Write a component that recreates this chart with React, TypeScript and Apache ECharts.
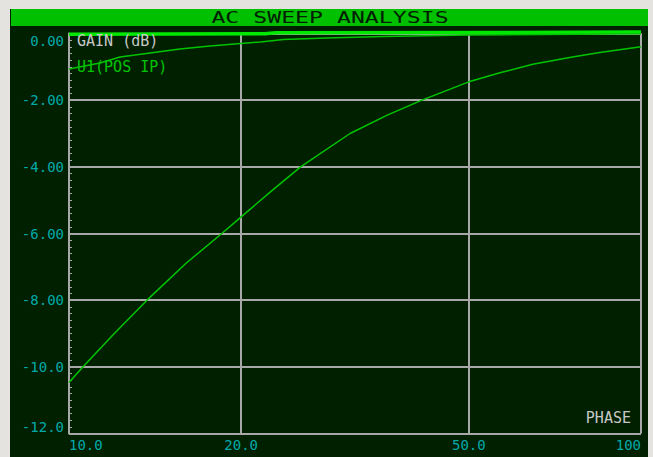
import React, { useEffect, useRef } from "react";
import * as echarts from "echarts";

const TITLE = "AC SWEEP ANALYSIS";
const LEFT_AXIS_TITLE = "GAIN (dB)";
const TRACE_NAME = "U1(POS IP)";
const RIGHT_AXIS_TITLE = "PHASE";

const xTicks = [10, 20, 50, 100];
const yMin = -12;
const yMax = 0;
const yStep = 2;

// main trace U1(POS IP)
const u1Freq = [10, 10.58, 12, 13.69, 16, 18.5, 20, 22.5, 25.4, 31, 36, 41.4, 50, 56.7, 64.7, 75, 84.7, 100];
const u1Gain = [-10.47, -10, -9.0, -8, -6.9, -6, -5.5, -4.75, -4, -3, -2.45, -2, -1.45, -1.18, -0.92, -0.72, -0.57, -0.4];

// second trace near the top
const secondFreq = [10, 11.33, 12.28, 13.86, 15.63, 17.64, 21.6, 23.7, 28.2, 35.4, 50, 100];
const secondGain = [-1.065, -0.885, -0.705, -0.585, -0.465, -0.375, -0.255, -0.18, -0.135, -0.09, -0.045, -0.01];

// bright flat trace at 0 dB
const flatFreq = [10, 22, 23, 60, 100];
const flatGain = [-0.02, -0.01, 0.02, 0.03, 0.045];

const GRAY = "#a8a8a8";
const TEAL = "#00aaaa";
const FONT = "DejaVu Sans Mono";

const pairs = (xs: number[], ys: number[]) => xs.map((x, i) => [x, ys[i]]);

export default function App() {
  const ref = useRef<HTMLDivElement>(null);
  useEffect(() => {
    document.body.style.margin = "0";
    const chart = echarts.init(ref.current!, null, { renderer: "svg" });
    chart.setOption({
      animation: false,
      backgroundColor: "#e4e3df",
      grid: { left: 69, right: 12, top: 33.5, bottom: 23.5, show: false },
      xAxis: {
        type: "log",
        logBase: 10,
        min: 10,
        max: 100,
        axisLine: { show: true, lineStyle: { color: GRAY, width: 2 } },
        axisTick: { show: false, customValues: xTicks },
        minorTick: { show: false },
        axisLabel: {
          customValues: xTicks,
          formatter: (v: number) => (v >= 100 ? String(Math.round(v)) : v.toFixed(1)),
          color: TEAL,
          fontFamily: FONT,
          fontSize: 14,
          margin: 4,
          alignMinLabel: "left",
          alignMaxLabel: "right",
        },
        splitLine: { show: true, lineStyle: { color: GRAY, width: 2 } },
      },
      yAxis: {
        type: "value",
        min: yMin,
        max: yMax,
        interval: yStep,
        axisLine: { show: true, lineStyle: { color: GRAY, width: 2 } },
        axisTick: { show: true, inside: true, length: 3, lineStyle: { color: GRAY } },
        minorTick: { show: true, splitNumber: 10, length: 3, lineStyle: { color: GRAY } },
        axisLabel: {
          formatter: (v: number) =>
            v === 0 ? "0.00" : Math.abs(v) >= 10 ? v.toFixed(1) : v.toFixed(2),
          color: TEAL,
          fontFamily: FONT,
          fontSize: 14,
          margin: 5,
          verticalAlignMinLabel: "bottom",
          verticalAlignMaxLabel: "top",
        },
        splitLine: { show: true, lineStyle: { color: GRAY, width: 2 } },
      },
      series: [
        {
          type: "line",
          name: "flat",
          data: pairs(flatFreq, flatGain),
          showSymbol: false,
          clip: false,
          lineStyle: { color: "#00e800", width: 3.5 },
          z: 3,
        },
        {
          type: "line",
          name: "second",
          data: pairs(secondFreq, secondGain),
          showSymbol: false,
          clip: false,
          lineStyle: { color: "#00c400", width: 1.5 },
        },
        {
          type: "line",
          name: TRACE_NAME,
          data: pairs(u1Freq, u1Gain),
          showSymbol: false,
          lineStyle: { color: "#00c400", width: 1.5 },
        },
      ],
      graphic: [
        { type: "rect", z: -10, shape: { x: 10, y: 9, width: 638, height: 448 }, style: { fill: "#002000" } },
        { type: "rect", z: -9, shape: { x: 11, y: 9, width: 637, height: 17 }, style: { fill: "#00c000" } },
        {
          type: "text",
          z: 5,
          x: 330,
          y: 18,
          scaleX: 1.45,
          style: {
            text: TITLE,
            fill: "#002000",
            font: `16px "${FONT}"`,
            textAlign: "center",
            textVerticalAlign: "middle",
          },
        },
        {
          type: "text",
          z: 5,
          x: 77,
          y: 41,
          style: { text: LEFT_AXIS_TITLE, fill: "#c8c8c8", font: `15px "${FONT}"`, textVerticalAlign: "middle" },
        },
        {
          type: "text",
          z: 5,
          x: 77,
          y: 67,
          style: { text: TRACE_NAME, fill: "#00c400", font: `15px "${FONT}"`, textVerticalAlign: "middle" },
        },
        {
          type: "text",
          z: 5,
          x: 631,
          y: 418,
          style: {
            text: RIGHT_AXIS_TITLE,
            fill: "#c8c8c8",
            font: `15px "${FONT}"`,
            textAlign: "right",
            textVerticalAlign: "middle",
          },
        },
      ],
    });
    return () => chart.dispose();
  }, []);
  return <div ref={ref} style={{ width: 653, height: 457 }} />;
}
